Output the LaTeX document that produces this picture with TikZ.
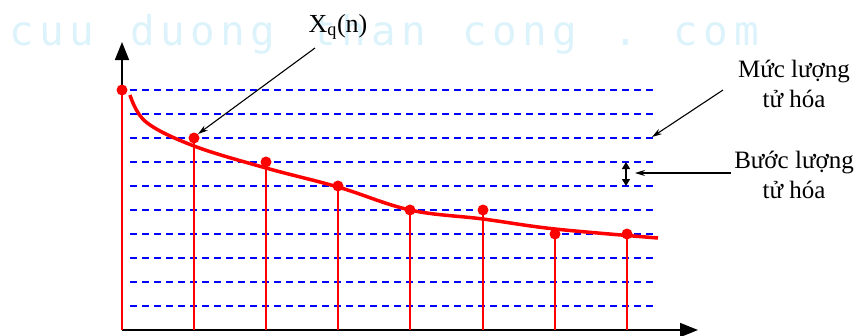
\documentclass[tikz,border=0pt]{standalone}
\usepackage{fontspec}
\setmainfont{Liberation Serif}
\newfontfamily\wmfont{DejaVu Sans Mono}
\usetikzlibrary{arrows.meta}
\definecolor{wmcol}{HTML}{DDF3FB}
\definecolor{lvlblue}{HTML}{0000FF}
\tikzset{
  level/.style={draw=lvlblue, line width=1.4pt, dash pattern=on 7pt off 5pt},
  axisline/.style={draw=black, line width=1.6pt, -{Triangle[width=14pt,length=18pt]}},
  stem/.style={draw=red, line width=2pt},
  sample/.style={circle, fill=red, inner sep=0pt, minimum size=11pt},
  signal/.style={draw=red, line width=3.5pt},
  callout/.style={draw=black, line width=1.1pt, -{Stealth[length=10pt,width=6pt]}},
  lbl/.style={font=\fontsize{25}{30}\selectfont, align=center, inner sep=0pt},
  wm/.style={font=\wmfont\fontsize{41}{41}\selectfont, text=wmcol, inner sep=0pt, anchor=base west}
}
\begin{document}
\begin{tikzpicture}[x=1pt,y=-1pt]
\useasboundingbox (0,0) rectangle (859,335);
% watermark
\foreach \ch [count=\i from 0] in {c,u,u, ,d,u,o,n,g, ,t,h,a,n, ,c,o,n,g, ,., ,c,o,m}{
  \node[wm] (wm\i) at ({9+30.2*\i},45) {\ch};
}
% level lines
\foreach \k in {0,...,9}{
  \coordinate (La\k) at (130,{90+24*\k});
  \coordinate (Lb\k) at (656,{90+24*\k});
  \draw[level] (La\k) -- (Lb\k);
}
% axes
\coordinate (O) at (122,330);
\coordinate (ytip) at (122,42);
\coordinate (xtip) at (698,330);
\draw[axisline] (O) -- (ytip);
\draw[axisline] (O) -- (xtip);
% signal curve
\draw[signal] plot[smooth, tension=0.6] coordinates {(130,95) (146,122) (194,146) (266,168) (338,187) (410,210) (483,219) (555,229) (658,238)};
% samples
\foreach \x/\y [count=\i from 0] in {122/90,194/138,266/162,338/186,410/210,483/210,555/234,627/234}{
  \coordinate (b\i) at (\x,330);
  \draw[stem] (b\i) -- (\x,\y);
  \node[sample] (d\i) at (\x,\y) {};
}
% labels
\node[lbl] (xq) at (338,27) {\fontsize{26}{30}\selectfont X\textsubscript{q}(n)};
\coordinate (xqs) at (315,48);
\draw[callout] (xqs) -- (d1.north east);

\node[lbl] (muc) at (794,84) {Mức lượng\\tử hóa};
\coordinate (mucs) at (723,90);
\coordinate (mucE) at (652,137);
\draw[callout] (mucs) -- (mucE);

\node[lbl] (buoc) at (794,175) {Bước lượng\\tử hóa};
\coordinate (buocs) at (731,173);
\coordinate (buocE) at (635,173);
\draw[callout] (buocs) -- (buocE);

\coordinate (st1) at (626,162);
\coordinate (st2) at (626,186);
\draw[black, line width=1.2pt, {Triangle[width=8pt,length=7pt]}-{Triangle[width=8pt,length=7pt]}] (st1) -- (st2);
\end{tikzpicture}
\end{document}
